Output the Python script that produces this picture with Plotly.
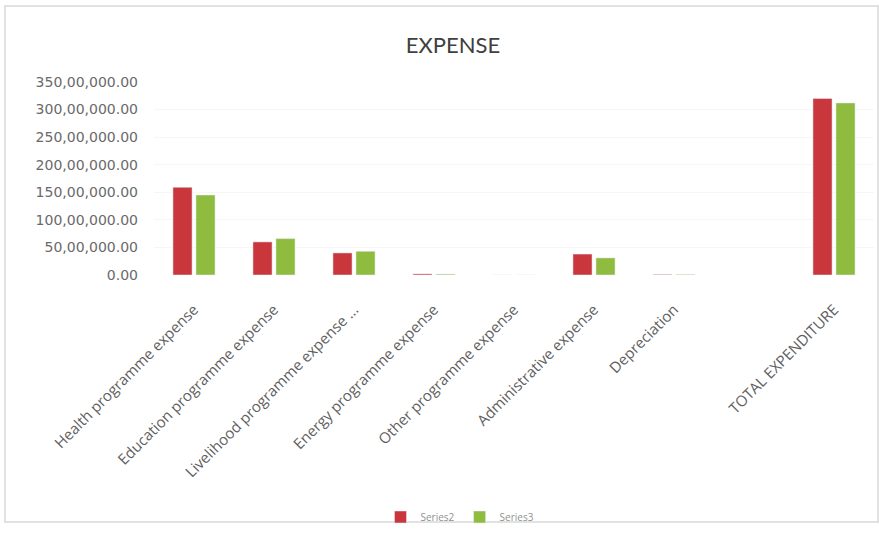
import plotly.graph_objects as go

categories = ["Health programme expense", "Education programme expense",
              "Livelihood programme expense ...", "Energy programme expense",
              "Other programme expense", "Administrative expense", "Depreciation",
              " ", "TOTAL EXPENDITURE"]
series2 = [15900000, 6000000, 4000000, 200000, 0, 3800000, 100000, None, 32000000]
series3 = [14500000, 6600000, 4300000, 150000, 0, 3100000, 100000, None, 31200000]
tick_vals = [0, 5000000, 10000000, 15000000, 20000000, 25000000, 30000000, 35000000]
tick_text = ["0.00", "50,00,000.00", "100,00,000.00", "150,00,000.00", "200,00,000.00",
             "250,00,000.00", "300,00,000.00", "350,00,000.00"]

W, H = 879, 535
L, R, T, B = 154, 5, 82, 260

fig = go.Figure()
fig.add_trace(go.Bar(name="Series2", x=categories, y=series2, marker_color="#C9373D"))
fig.add_trace(go.Bar(name="Series3", x=categories, y=series3, marker_color="#8FBC3F"))

pw = W - L - R
ph = H - T - B
def px(x):
    return (x - L) / pw
def py(y):
    return (H - B - y) / ph

fig.update_layout(
    width=W, height=H,
    margin=dict(l=L, r=R, t=T, b=B, autoexpand=False),
    paper_bgcolor="white", plot_bgcolor="white",
    barmode="group", bargap=0.425, bargroupgap=0.17,
    title=dict(text="EXPENSE", x=(453) / W, xanchor="center", y=1 - 45 / H, yanchor="middle",
               font=dict(family="Lato", size=22, color="#404040")),
    font=dict(family="Open Sans", color="#595959"),
    xaxis=dict(tickangle=-45, tickfont=dict(family="Open Sans", size=15, color="#606060"),
               showline=False, ticks="", showgrid=False, ticklabelstandoff=22),
    yaxis=dict(range=[0, 35000000], tickvals=tick_vals, ticktext=tick_text,
               tickfont=dict(family="DejaVu Sans", size=14, color="#6a6a6a"),
               showgrid=True, gridcolor="#f6f6f6", zeroline=False, showline=False, ticks="",
               ticklabelstandoff=15),
    legend=dict(orientation="h", xref="container", yref="container", x=460 / W, xanchor="center",
                y=(H - 517) / H, yanchor="middle", font=dict(size=10, color="#909090"),
                itemwidth=30, bgcolor="rgba(255,255,255,0)"),
    showlegend=True,
)
fig.add_shape(type="rect", xref="paper", yref="paper",
              x0=px(5), x1=px(878), y0=py(522), y1=py(6),
              line=dict(color="#d9d9d9", width=1.5), layer="below")
fig.write_html("out.html")
